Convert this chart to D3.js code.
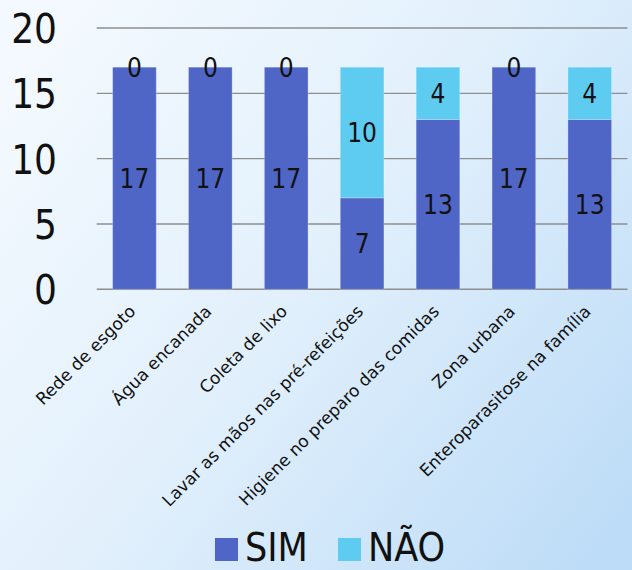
<!DOCTYPE html>
<html>
<head>
<meta charset="utf-8">
<script src="https://cdn.jsdelivr.net/npm/d3@7"></script>
<style>
html,body{margin:0;padding:0;overflow:hidden;}
svg{display:block;}
</style>
</head>
<body>
<svg id="chart" width="632" height="570"></svg>
<script>
const categories = ["Rede de esgoto","Água encanada","Coleta de lixo","Lavar as mãos nas pré-refeições","Higiene no preparo das comidas","Zona urbana","Enteroparasitose na família"];
const simValues = [17,17,17,7,13,17,13];
const naoValues = [0,0,0,10,4,0,4];
const seriesNames = ["SIM","NÃO"];
const seriesColors = ["#4f66c7","#5ecbf1"];
const yTicks = [0,5,10,15,20];

const W = 632, H = 570;
const svg = d3.select("#chart");

// background gradient
const defs = svg.append("defs");
const grad = defs.append("linearGradient").attr("id","bg")
  .attr("x1","0").attr("y1","0.2").attr("x2","1").attr("y2","0.9");
grad.append("stop").attr("offset","0").attr("stop-color","#f3f9fe");
grad.append("stop").attr("offset","0.45").attr("stop-color","#e2f0fc");
grad.append("stop").attr("offset","1").attr("stop-color","#bddcf7");
svg.append("rect").attr("width",W).attr("height",H).attr("fill","url(#bg)");

const x = d3.scaleBand().domain(categories).range([96.7, 627.5]).paddingInner(0.425).paddingOuter(0.21);
const y = d3.scaleLinear().domain([0,20]).range([289.3, 28]);

// gridlines
svg.append("g").selectAll("line").data(yTicks).join("line")
  .attr("x1",96.7).attr("x2",627.5)
  .attr("y1",d=>y(d)).attr("y2",d=>y(d))
  .attr("stroke","#8e8e8e").attr("stroke-width",1.4);

// y axis labels
const yAxis = d3.axisLeft(y).tickValues(yTicks).tickSize(0).tickPadding(0);
const yg = svg.append("g").attr("transform","translate(57,0)").call(yAxis);
yg.select(".domain").remove();
yg.selectAll("text")
  .attr("font-family","'DejaVu Sans Condensed', 'DejaVu Sans', sans-serif")
  .attr("font-size",40).attr("fill","#111").attr("dy","0.36em");

// stacked data
const rows = categories.map((c,i)=>({cat:c, SIM:simValues[i], "NÃO":naoValues[i]}));
const stack = d3.stack().keys(seriesNames)(rows);

const layers = svg.append("g").selectAll("g").data(stack).join("g")
  .attr("fill",(d,i)=>seriesColors[i]);
layers.selectAll("rect").data(d=>d).join("rect")
  .attr("x",d=>x(d.data.cat))
  .attr("width",x.bandwidth())
  .attr("y",d=>y(d[1]))
  .attr("height",d=>y(d[0])-y(d[1]))
  .attr("stroke","rgba(255,255,255,0.25)").attr("stroke-width",1);

// data labels
const labels = svg.append("g")
  .attr("font-family","'DejaVu Sans Condensed', 'DejaVu Sans', sans-serif")
  .attr("font-size",26).attr("fill","#111").attr("text-anchor","middle");
stack.forEach(layer=>{
  layer.forEach(d=>{
    labels.append("text")
      .attr("x", x(d.data.cat)+x.bandwidth()/2)
      .attr("y", (y(d[0])+y(d[1]))/2)
      .attr("dy","0.36em")
      .text(d[1]-d[0]);
  });
});

// x axis labels
const xg = svg.append("g")
  .attr("font-family","'DejaVu Sans', sans-serif")
  .attr("font-size",17).attr("fill","#111");
categories.forEach(c=>{
  const cx = x(c)+x.bandwidth()/2;
  xg.append("text")
    .attr("text-anchor","end")
    .attr("transform",`translate(${cx-2},${y(0)+19}) rotate(-45)`)
    .attr("dy","0.35em")
    .text(c);
});

// legend
const legend = svg.append("g")
  .attr("font-family","'DejaVu Sans Condensed', 'DejaVu Sans', sans-serif")
  .attr("font-size",39).attr("fill","#111");
const legX = [215, 338];
seriesNames.forEach((s,i)=>{
  legend.append("rect").attr("x",legX[i]).attr("y",538).attr("width",23).attr("height",23)
    .attr("fill",seriesColors[i]);
  legend.append("text").attr("x",legX[i]+30).attr("y",561).text(s);
});
</script>
</body>
</html>
